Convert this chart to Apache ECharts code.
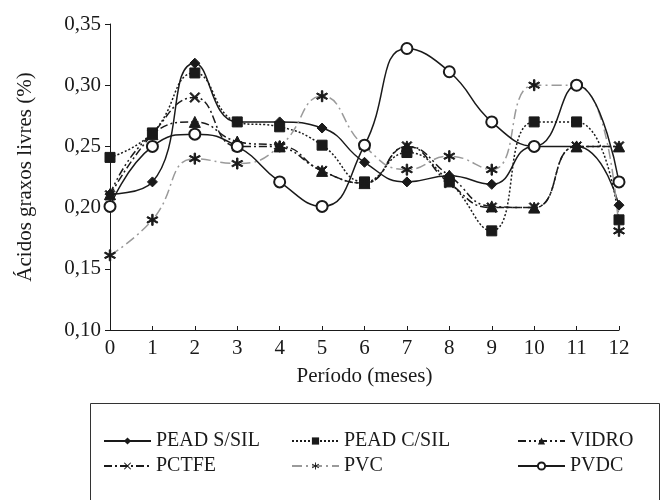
<!DOCTYPE html>
<html>
<head>
<meta charset="utf-8">
<script src="https://cdn.jsdelivr.net/npm/echarts@6/dist/echarts.min.js"></script>
<style>
  html, body { margin: 0; padding: 0; background: #fff; }
  #chart { width: 661px; height: 500px; }
</style>
</head>
<body>
<div id="chart"></div>
<script>
// meses
var meses = ['0', '1', '2', '3', '4', '5', '6', '7', '8', '9', '10', '11', '12'];

// ácidos graxos livres (%) por embalagem
var peadSSil = [0.211, 0.221, 0.318, 0.270, 0.270, 0.265, 0.237, 0.221, 0.226, 0.219, 0.250, 0.250, 0.202];
var peadCSil = [0.241, 0.261, 0.310, 0.270, 0.266, 0.251, 0.221, 0.245, 0.221, 0.181, 0.270, 0.270, 0.190];
var vidro    = [0.211, 0.260, 0.270, 0.254, 0.250, 0.230, 0.220, 0.250, 0.226, 0.201, 0.200, 0.250, 0.250];
var pctfe    = [0.210, 0.260, 0.290, 0.250, 0.250, 0.230, 0.220, 0.250, 0.220, 0.200, 0.200, 0.250, 0.250];
var pvc      = [0.161, 0.190, 0.240, 0.236, 0.250, 0.291, 0.250, 0.231, 0.242, 0.231, 0.300, 0.300, 0.181];
var pvdc     = [0.201, 0.250, 0.260, 0.250, 0.221, 0.201, 0.251, 0.330, 0.311, 0.270, 0.250, 0.300, 0.221];

var fonte = '"Liberation Serif", "DejaVu Serif", serif';
var preto = '#1a1a1a';

var simboloX = 'path://M0,1 L1,0 L5,4 L9,0 L10,1 L6,5 L10,9 L9,10 L5,6 L1,10 L0,9 L4,5 Z';
var simboloAsterisco = 'path://M4.4,0 L5.6,0 L5.6,10 L4.4,10 Z ' +
  'M0.97,1.98 L9.63,6.98 L9.03,8.02 L0.37,3.02 Z ' +
  'M0.37,6.98 L9.03,1.98 L9.63,3.02 L0.97,8.02 Z';

function serie(nome, dados, simbolo, tamanho, tipoLinha, corLinha) {
  return {
    name: nome,
    type: 'line',
    data: dados,
    smooth: 0.5,
    symbol: simbolo,
    symbolSize: tamanho,
    showAllSymbol: true,
    lineStyle: { color: corLinha || preto, width: 1.5, type: tipoLinha },
    itemStyle: { color: preto, borderColor: preto },
    emphasis: { disabled: true }
  };
}

var chart = echarts.init(document.getElementById('chart'));

var legendaBase = {
  orient: 'vertical',
  top: 431,
  padding: 0,
  itemWidth: 47,
  itemHeight: 9,
  itemGap: 5,
  textStyle: { fontFamily: fonte, fontSize: 20, color: preto },
  selectedMode: false
};

chart.setOption({
  animation: false,
  textStyle: { fontFamily: fonte },
  grid: { left: 110, right: 42, top: 24, height: 306 },
  xAxis: {
    type: 'category',
    data: meses,
    boundaryGap: false,
    name: 'Período (meses)',
    nameLocation: 'middle',
    nameGap: 36,
    nameTextStyle: { fontFamily: fonte, fontSize: 21, color: preto },
    axisLine: { lineStyle: { color: preto, width: 1 } },
    axisTick: { inside: true, length: 4, lineStyle: { color: preto } },
    axisLabel: { fontFamily: fonte, fontSize: 21, color: preto, margin: 8 },
    splitLine: { show: false }
  },
  yAxis: {
    type: 'value',
    min: 0.10,
    max: 0.35,
    interval: 0.05,
    name: 'Ácidos graxos livres (%)',
    nameLocation: 'middle',
    nameGap: 74,
    nameTextStyle: { fontFamily: fonte, fontSize: 21, color: preto },
    axisLine: { show: true, lineStyle: { color: preto, width: 1 } },
    axisTick: { show: true, length: 5, lineStyle: { color: preto } },
    axisLabel: {
      fontFamily: fonte, fontSize: 21, color: preto, margin: 9,
      formatter: function (v) { return v.toFixed(2).replace('.', ','); }
    },
    splitLine: { show: false }
  },
  legend: [
    Object.assign({ left: 103, data: ['PEAD S/SIL', 'PCTFE'] }, legendaBase),
    Object.assign({ left: 291, data: ['PEAD C/SIL', 'PVC'] }, legendaBase),
    Object.assign({ left: 517, data: ['VIDRO', 'PVDC'] }, legendaBase)
  ],
  graphic: [{
    type: 'rect',
    shape: { x: 90.5, y: 403.5, width: 569, height: 120 },
    style: { fill: 'none', stroke: '#333', lineWidth: 1 },
    silent: true
  }],
  series: [
    serie('PEAD S/SIL', peadSSil, 'diamond', 10, 'solid'),
    serie('PEAD C/SIL', peadCSil, 'rect', 10, [2, 2]),
    serie('VIDRO', vidro, 'triangle', 11, [8, 3, 2, 3, 2, 3]),
    serie('PCTFE', pctfe, simboloX, 10, [8, 3, 2, 3]),
    serie('PVC', pvc, simboloAsterisco, 11, [10, 4, 2, 4], '#9a9a9a'),
    serie('PVDC', pvdc, 'emptyCircle', 11, 'solid')
  ]
});
</script>
</body>
</html>
